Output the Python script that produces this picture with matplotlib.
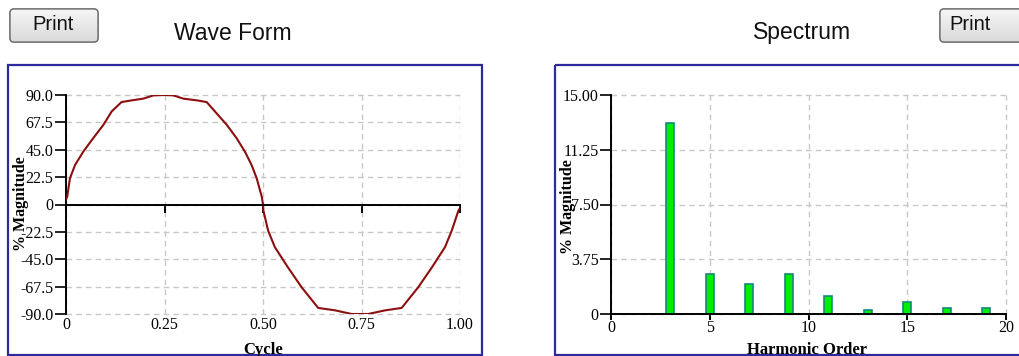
import matplotlib
matplotlib.use("Agg")
import matplotlib.pyplot as plt
import numpy as np
from matplotlib.patches import FancyBboxPatch, Rectangle
import matplotlib.transforms as mtrans

# ---------------- data ----------------
cycle = [0.0, 0.003, 0.010, 0.023, 0.044, 0.069, 0.095, 0.116, 0.141, 0.167,
         0.196, 0.222, 0.250, 0.272, 0.298, 0.332, 0.357, 0.382, 0.408, 0.433,
         0.454, 0.471, 0.484, 0.497, 0.500, 0.501, 0.513, 0.530, 0.564, 0.598,
         0.640, 0.683, 0.725, 0.750, 0.767, 0.810, 0.852, 0.894, 0.928, 0.962,
         0.979, 0.996, 1.000]
wave_pct = [4.0, 6.3, 21.5, 32.5, 43.5, 54.5, 65.5, 76.5, 84.2, 85.6,
            87.0, 89.7, 90.0, 89.7, 87.0, 85.6, 84.2, 75.0, 65.5, 54.5,
            43.5, 32.5, 21.5, 6.3, 0.0, -5.0, -21.5, -35.0, -52.0, -68.0,
            -85.0, -87.0, -90.0, -90.0, -90.0, -87.0, -85.0, -68.0, -52.0, -35.0,
            -21.5, -5.0, -3.0]
wave_yticks = [-90.0, -67.5, -45.0, -22.5, 0.0, 22.5, 45.0, 67.5, 90.0]
wave_yticklabels = ["-90.0", "-67.5", "-45.0", "-22.5", "0", "22.5", "45.0", "67.5", "90.0"]
wave_xticks = [0.0, 0.25, 0.50, 0.75, 1.00]
wave_xticklabels = ["0", "0.25", "0.50", "0.75", "1.00"]

harmonic_order = [3, 5, 7, 9, 11, 13, 15, 17, 19]
harmonic_pct = [13.05, 2.74, 2.05, 2.74, 1.23, 0.27, 0.84, 0.41, 0.41]
spec_yticks = [0, 3.75, 7.50, 11.25, 15.00]
spec_yticklabels = ["0", "3.75", "7.50", "11.25", "15.00"]
spec_xticks = [0, 5, 10, 15, 20]
spec_xticklabels = ["0", "5", "10", "15", "20"]

W, H = 1019, 356
fig = plt.figure(figsize=(W / 100, H / 100), dpi=100)
fig.patch.set_facecolor("white")

SERIF = "Liberation Serif"
SANS = "Liberation Sans"
tick_fs = 11.5
grid_kw = dict(color="#c8c8c8", linestyle=(0, (4, 3)), linewidth=1.0)

# ---------------- decoration overlay (pixel coords) ----------------
ov = fig.add_axes([0, 0, 1, 1], zorder=0)
ov.set_xlim(0, W)
ov.set_ylim(H, 0)
ov.axis("off")

for (x0, x1) in [(8, 482), (555, 1030)]:
    ov.add_patch(Rectangle((x0, 65), x1 - x0, 290, fill=False,
                           edgecolor="#2b2b9e", linewidth=1.6))

grad = np.linspace(0, 1, 64).reshape(-1, 1)
btn_cmap = matplotlib.colors.LinearSegmentedColormap.from_list("btn", ["#f6f6f6", "#dadada"])
for (bx, bw, tx) in [(10, 88, 53), (940, 100, 970)]:
    p = FancyBboxPatch((bx, 9), bw, 33, boxstyle="round,pad=0,rounding_size=4",
                       facecolor="#e8e8e8", edgecolor="#707070", linewidth=1.0)
    ov.add_patch(p)
    im = ov.imshow(grad, extent=(bx, bx + bw, 42, 9), cmap=btn_cmap, aspect="auto", zorder=1)
    im.set_clip_path(p)
    p2 = FancyBboxPatch((bx, 9), bw, 33, boxstyle="round,pad=0,rounding_size=4",
                        facecolor="none", edgecolor="#707070", linewidth=1.0, zorder=2)
    ov.add_patch(p2)
    ov.text(tx, 25, "Print", fontsize=14.5, family=SANS, ha="center", va="center",
            color="#111111", zorder=3)
ov.set_xlim(0, W)
ov.set_ylim(H, 0)

fig.text(233 / W, 1 - 33 / H, "Wave Form", fontsize=16.5, family=SANS,
         ha="center", va="center", color="#111111")
fig.text(802 / W, 1 - 33 / H, "Spectrum", fontsize=16.5, family=SANS,
         ha="center", va="center", color="#111111")

# ---------------- wave form ----------------
ax1 = fig.add_axes([66 / W, 1 - 314 / H, 394 / W, 219 / H], zorder=1)
ax1.set_facecolor("none")
ax1.plot(cycle, wave_pct, color="#8b0f0f", linewidth=1.5, zorder=3)
ax1.set_xlim(0, 1)
ax1.set_ylim(-90, 90)
ax1.set_yticks(wave_yticks)
ax1.set_yticklabels(wave_yticklabels, family=SERIF, fontsize=tick_fs)
ax1.set_xticks(wave_xticks)
ax1.grid(True, **grid_kw)
for ln in ax1.get_xgridlines() + ax1.get_ygridlines():
    ln.set_clip_on(False)
ax1.spines["top"].set_visible(False)
ax1.spines["right"].set_visible(False)
ax1.spines["bottom"].set_position(("data", 0))
ax1.spines["bottom"].set_zorder(4)
for s in ("left", "bottom"):
    ax1.spines[s].set_linewidth(1.4)
    ax1.spines[s].set_color("black")
ax1.tick_params(axis="y", length=8, width=1.2, pad=1.0, colors="black")
ax1.tick_params(axis="x", length=5.5, width=1.4, labelbottom=False)
trans1 = mtrans.blended_transform_factory(ax1.transData, ax1.transAxes)
for xv, lab in zip(wave_xticks, wave_xticklabels):
    ax1.text(xv, -0.012, lab, transform=trans1, ha="center", va="top",
             family=SERIF, fontsize=tick_fs, color="black", clip_on=False)
fig.text(263 / W, 1 - 342 / H, "Cycle", family=SERIF, fontweight="bold",
         fontsize=12, ha="center", va="top")
fig.text(21 / W, 1 - 204 / H, "% Magnitude", family=SERIF, fontweight="bold",
         fontsize=11.5, rotation=90, ha="center", va="center")

# ---------------- spectrum ----------------
ax2 = fig.add_axes([611 / W, 1 - 314 / H, 395 / W, 219 / H], zorder=1)
ax2.set_facecolor("none")
ax2.bar(harmonic_order, harmonic_pct, width=0.42, color="#00ee00",
        edgecolor="#138a7c", linewidth=1.2, zorder=3)
ax2.set_xlim(0, 20)
ax2.set_ylim(0, 15)
ax2.set_yticks(spec_yticks)
ax2.set_yticklabels(spec_yticklabels, family=SERIF, fontsize=tick_fs)
ax2.set_xticks(spec_xticks)
ax2.set_xticklabels(spec_xticklabels, family=SERIF, fontsize=tick_fs)
ax2.grid(True, **grid_kw)
for ln in ax2.get_xgridlines() + ax2.get_ygridlines():
    ln.set_clip_on(False)
ax2.spines["top"].set_visible(False)
ax2.spines["right"].set_visible(False)
ax2.spines["bottom"].set_zorder(4)
for s in ("left", "bottom"):
    ax2.spines[s].set_linewidth(1.4)
    ax2.spines[s].set_color("black")
ax2.tick_params(axis="y", length=8, width=1.2, pad=1.0, colors="black")
ax2.tick_params(axis="x", length=4, width=1.4, pad=0.5, colors="black")
fig.text(807 / W, 1 - 342 / H, "Harmonic Order", family=SERIF, fontweight="bold",
         fontsize=12, ha="center", va="top")
fig.text(568 / W, 1 - 207 / H, "% Magnitude", family=SERIF, fontweight="bold",
         fontsize=11.5, rotation=90, ha="center", va="center")

fig.savefig("out.png", dpi=100, facecolor="white")
